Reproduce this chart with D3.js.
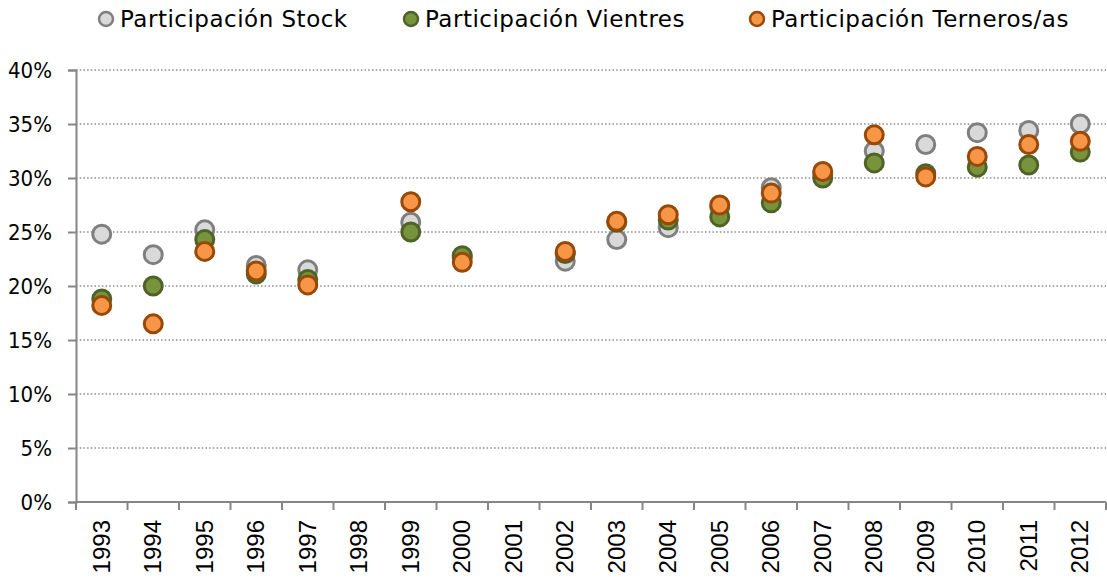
<!DOCTYPE html>
<html>
<head>
<meta charset="utf-8">
<script src="https://cdn.jsdelivr.net/npm/d3@7"></script>
<style>
  body { margin: 0; background: #fff; }
  svg { display: block; }
</style>
</head>
<body>
<svg id="chart" width="1107" height="578"></svg>
<script>
// Data (shares, 0..1). null = no value that year.
const years = ['1993', '1994', '1995', '1996', '1997', '1998', '1999', '2000', '2001', '2002',
  '2003', '2004', '2005', '2006', '2007', '2008', '2009', '2010', '2011', '2012'];
const stock = [0.248, 0.229, 0.252, 0.219, 0.215, null, 0.259, 0.226, null, 0.223,
  0.243, 0.254, 0.273, 0.291, 0.304, 0.325, 0.331, 0.342, 0.344, 0.350];
const vientres = [0.188, 0.200, 0.243, 0.211, 0.206, null, 0.250, 0.228, null, 0.230,
  0.259, 0.261, 0.264, 0.277, 0.300, 0.314, 0.304, 0.310, 0.312, 0.324];
const terneros = [0.182, 0.165, 0.232, 0.214, 0.201, null, 0.278, 0.222, null, 0.232,
  0.260, 0.266, 0.275, 0.286, 0.306, 0.340, 0.301, 0.320, 0.331, 0.334];
const yTicks = [0, 0.05, 0.10, 0.15, 0.20, 0.25, 0.30, 0.35, 0.40];

const series = [
  { name: 'Participación Stock', values: stock, fill: '#d9d9d9', stroke: '#7f7f7f', lx: 106 },
  { name: 'Participación Vientres', values: vientres, fill: '#77933c', stroke: '#4f6228', lx: 411 },
  { name: 'Participación Terneros/as', values: terneros, fill: '#f79646', stroke: '#984807', lx: 757 },
];

const svg = d3.select('#chart');
const plotLeft = 76, plotRight = 1106, plotTop = 70, plotBottom = 502;

const x = d3.scaleBand().domain(years).range([plotLeft, plotRight]);
const y = d3.scaleLinear().domain([0, 0.4]).range([plotBottom, plotTop]);

// gridlines
svg.append('g')
  .selectAll('line')
  .data(yTicks.filter((t) => t > 0))
  .join('line')
  .attr('x1', plotLeft).attr('x2', plotRight)
  .attr('y1', (d) => y(d)).attr('y2', (d) => y(d))
  .attr('stroke', '#8c8c8c')
  .attr('stroke-width', 1.3)
  .attr('stroke-dasharray', '1.5,2.2');

// y axis
const yAxis = svg.append('g')
  .attr('transform', `translate(${plotLeft},0)`)
  .call(d3.axisLeft(y).tickValues(yTicks).tickFormat(d3.format('.0%')).tickSize(8).tickPadding(16));
yAxis.select('.domain').attr('stroke', '#868686').attr('stroke-width', 2);
yAxis.selectAll('.tick line').attr('stroke', '#868686').attr('stroke-width', 2);
yAxis.selectAll('.tick text')
  .attr('font-family', '"DejaVu Sans Condensed", "DejaVu Sans", sans-serif')
  .attr('font-size', 22)
  .attr('fill', '#000');

// x axis: ticks sit on band boundaries
const xAxis = svg.append('g').attr('transform', `translate(0,${plotBottom})`);
xAxis.append('line')
  .attr('x1', plotLeft).attr('x2', plotRight)
  .attr('stroke', '#868686').attr('stroke-width', 2);
xAxis.selectAll('line.tk')
  .data(years.concat(['end']))
  .join('line')
  .attr('class', 'tk')
  .attr('x1', (d, i) => plotLeft + i * x.bandwidth())
  .attr('x2', (d, i) => plotLeft + i * x.bandwidth())
  .attr('y1', 0).attr('y2', 8)
  .attr('stroke', '#868686').attr('stroke-width', 2);
xAxis.selectAll('text')
  .data(years)
  .join('text')
  .attr('transform', (d) => `translate(${x(d) + x.bandwidth() / 2 + 8},18) rotate(-90)`)
  .attr('text-anchor', 'end')
  .attr('font-family', '"Liberation Sans", Arial, sans-serif')
  .attr('font-size', 24)
  .attr('fill', '#000')
  .text((d) => d);

// markers
series.forEach((s) => {
  svg.append('g')
    .selectAll('circle')
    .data(years.map((yr, i) => ({ yr, v: s.values[i] })).filter((d) => d.v != null))
    .join('circle')
    .attr('cx', (d) => x(d.yr) + x.bandwidth() / 2)
    .attr('cy', (d) => y(d.v))
    .attr('r', 9)
    .attr('fill', s.fill)
    .attr('stroke', s.stroke)
    .attr('stroke-width', 3);
});

// legend
const legend = svg.append('g');
series.forEach((s) => {
  legend.append('circle')
    .attr('cx', s.lx).attr('cy', 19).attr('r', 7)
    .attr('fill', s.fill).attr('stroke', s.stroke).attr('stroke-width', 2.5);
  legend.append('text')
    .attr('x', s.lx + 14).attr('y', 27)
    .attr('font-family', '"DejaVu Sans", sans-serif')
    .attr('font-size', 23)
    .attr('letter-spacing', 0.5)
    .attr('fill', '#000')
    .text(s.name);
});
</script>
</body>
</html>
